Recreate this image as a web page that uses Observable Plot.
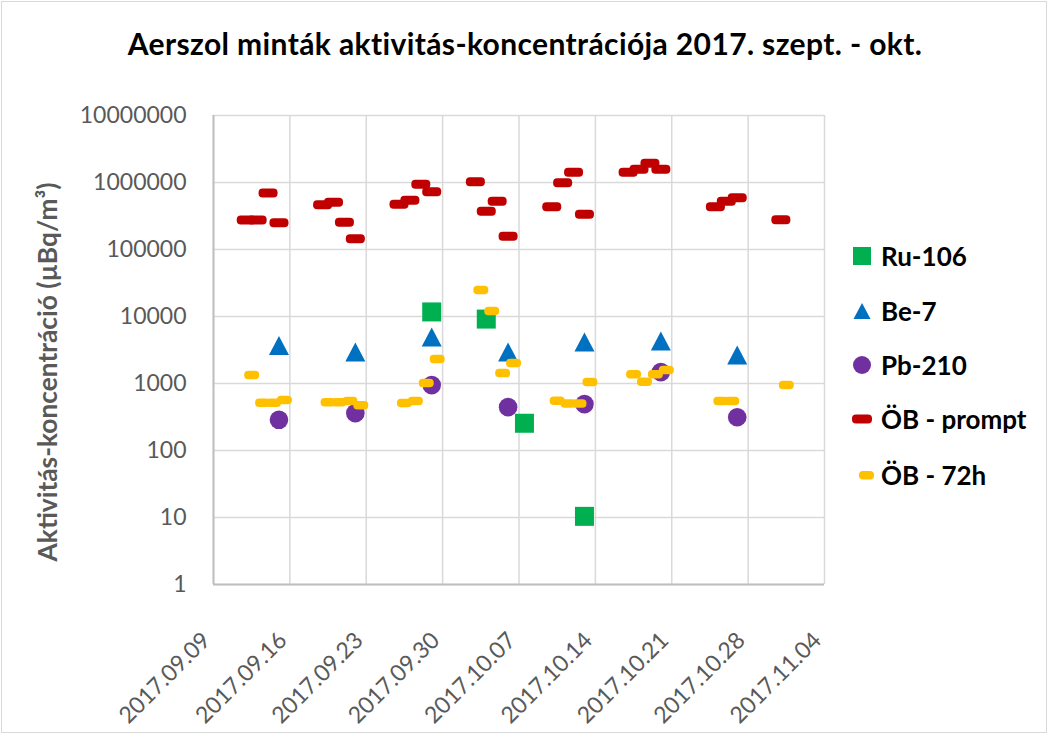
<!DOCTYPE html>
<html>
<head>
<meta charset="utf-8">
<script src="https://cdn.jsdelivr.net/npm/d3@7"></script>
<script src="https://cdn.jsdelivr.net/npm/@observablehq/plot@0.6"></script>
<style>
  body { margin: 0; background: #fff; font-family: Lato, "Open Sans", sans-serif; }
  #wrap { position: relative; width: 1050px; height: 735px; overflow: hidden; background: #fff; }
  #frame { position: absolute; left: 1px; top: 1px; width: 1044px; height: 730px; border: 1px solid #d9d9d9; pointer-events: none; }
  #title { position: absolute; left: 0; top: 28px; width: 1050px; text-align: center; font-weight: bold; font-size: 30px; line-height: 30px; color: #000; white-space: nowrap; }
  #title span { display: inline-block; }
  #chart { position: absolute; left: 0; top: 80px; }
  #legend { position: absolute; left: 850px; top: 0; }
  .row { position: absolute; left: 0; height: 30px; width: 200px; }
  .row svg { position: absolute; left: 0; top: 3px; }
  .row span { position: absolute; left: 31px; top: 0; line-height: 30px; font-size: 26px; font-weight: bold; color: #000; white-space: nowrap; }
</style>
</head>
<body>
<div id="wrap">
  <div id="title"><span></span></div>
  <div id="chart"></div>
  <div id="legend"></div>
  <div id="frame"></div>
</div>
<script>
// ---------- data ----------
const chartTitle = "Aerszol minták aktivitás-koncentrációja 2017. szept. - okt.";
const yTitle = "Aktivitás-koncentráció (µBq/m³)";
const xTickLabels = ["2017.09.09","2017.09.16","2017.09.23","2017.09.30","2017.10.07","2017.10.14","2017.10.21","2017.10.28","2017.11.04"];
const yTickValues = [1, 10, 100, 1000, 10000, 100000, 1000000, 10000000];
const yTickLabels = ["1","10","100","1000","10000","100000","1000000","10000000"];

const seriesNames = ["Ru-106", "Be-7", "Pb-210", "ÖB - prompt", "ÖB - 72h"];
const seriesColors = ["#00b050", "#0070c0", "#7030a0", "#c00000", "#ffc000"];

const ru106Dates = ["2017-09-29", "2017-10-04", "2017-10-07T12:00", "2017-10-13"];
const ru106Values = [11700, 9150, 255, 10.4];

const be7Dates = ["2017-09-15", "2017-09-22", "2017-09-29", "2017-10-06", "2017-10-13", "2017-10-20", "2017-10-27"];
const be7Values = [3700, 2950, 4950, 2950, 4150, 4300, 2660];

const pb210Dates = ["2017-09-15", "2017-09-22", "2017-09-29", "2017-10-06", "2017-10-13", "2017-10-20", "2017-10-27"];
const pb210Values = [287, 361, 946, 444, 493, 1480, 313];

const promptDates = [
  "2017-09-12", "2017-09-13", "2017-09-14", "2017-09-15",
  "2017-09-19", "2017-09-20", "2017-09-21", "2017-09-22",
  "2017-09-26", "2017-09-27", "2017-09-28", "2017-09-29",
  "2017-10-03", "2017-10-04", "2017-10-05", "2017-10-06",
  "2017-10-10", "2017-10-11", "2017-10-12", "2017-10-13",
  "2017-10-17", "2017-10-18", "2017-10-19", "2017-10-20",
  "2017-10-25", "2017-10-26", "2017-10-27",
  "2017-10-31"
];
const promptValues = [
  275000, 275000, 700000, 250000,
  467000, 507000, 255000, 145000,
  473000, 543000, 945000, 730000,
  1030000, 372000, 525000, 157000,
  435000, 995000, 1420000, 335000,
  1420000, 1580000, 1940000, 1580000,
  435000, 525000, 593000,
  278000
];

const h72Dates = [
  "2017-09-12T12:00", "2017-09-13T12:00", "2017-09-14T12:00", "2017-09-15T12:00",
  "2017-09-19T12:00", "2017-09-20T12:00", "2017-09-21T12:00", "2017-09-22T12:00",
  "2017-09-26T12:00", "2017-09-27T12:00", "2017-09-28T12:00", "2017-09-29T12:00",
  "2017-10-03T12:00", "2017-10-04T12:00", "2017-10-05T12:00", "2017-10-06T12:00",
  "2017-10-10T12:00", "2017-10-11T12:00", "2017-10-12T12:00", "2017-10-13T12:00",
  "2017-10-17T12:00", "2017-10-18T12:00", "2017-10-19T12:00", "2017-10-20T12:00",
  "2017-10-25T12:00", "2017-10-26T12:00",
  "2017-10-31T12:00"
];
const h72Values = [
  1340, 515, 515, 565,
  527, 527, 546, 475,
  510, 546, 1015, 2320,
  24900, 12100, 1430, 2020,
  552, 504, 504, 1050,
  1370, 1060, 1370, 1590,
  546, 546,
  946
];

// ---------- helpers ----------
const parse = s => new Date(s.length === 10 ? s + "T00:00Z" : s + "Z");
const xTicks = xTickLabels.map(s => parse(s.replace(/\./g, "-")));

function roundRect(w, h, r) {
  return { draw(c) {
    const x0 = -w / 2, x1 = w / 2, y0 = -h / 2, y1 = h / 2;
    c.moveTo(x0 + r, y0); c.lineTo(x1 - r, y0); c.arcTo(x1, y0, x1, y0 + r, r);
    c.lineTo(x1, y1 - r); c.arcTo(x1, y1, x1 - r, y1, r);
    c.lineTo(x0 + r, y1); c.arcTo(x0, y1, x0, y1 - r, r);
    c.lineTo(x0, y0 + r); c.arcTo(x0, y0, x0 + r, y0, r);
    c.closePath();
  }};
}
function tri(w, h) {
  return { draw(c) { c.moveTo(0, -h / 2); c.lineTo(w / 2, h / 2); c.lineTo(-w / 2, h / 2); c.closePath(); } };
}
const symSquare = roundRect(19, 19, 0);
const symTri = tri(20, 19);
const symPrompt = roundRect(19, 9, 4);
const sym72 = roundRect(15, 8.5, 4);

const series = (dates, values) => values.map((v, i) => ({ date: parse(dates[i]), value: v }));

const grid = "#d9d9d9";
const axisCol = "#bfbfbf";
const textCol = "#595959";

const chart = Plot.plot({
  width: 1050,
  height: 655,
  marginTop: 35,
  marginBottom: 151,
  marginLeft: 213,
  marginRight: 226,
  style: { fontFamily: "Lato, 'Open Sans', sans-serif", background: "transparent", overflow: "visible" },
  x: { type: "utc", domain: [xTicks[0], xTicks[xTicks.length - 1]], axis: null },
  y: { type: "log", domain: [1, 10000000], axis: null },
  marks: [
    Plot.gridX(xTicks, { stroke: grid, strokeOpacity: 1, strokeWidth: 1.5 }),
    Plot.gridY(yTickValues, { stroke: grid, strokeOpacity: 1, strokeWidth: 1.5 }),
    Plot.ruleY([1], { stroke: axisCol, strokeWidth: 2 }),
    Plot.ruleX([xTicks[0]], { stroke: axisCol, strokeWidth: 2 }),
    Plot.axisY(yTickValues, { anchor: "left", tickSize: 0, tickPadding: 27, tickFormat: d => yTickLabels[yTickValues.indexOf(d)], fontSize: 23, fill: textCol, label: null }),
    Plot.text(xTicks, { x: d => d, text: (d, i) => xTickLabels[i], frameAnchor: "bottom", dx: -7, dy: 52, rotate: -45, textAnchor: "end", lineAnchor: "middle", fontSize: 23, fill: textCol }),
    Plot.text([yTitle], { frameAnchor: "left", dx: -165, dy: 22, rotate: -90, textAnchor: "middle", fontSize: 26, fontWeight: "bold", fill: textCol }),
    Plot.dot(series(ru106Dates, ru106Values), { x: "date", y: "value", symbol: symSquare, r: 1, fill: seriesColors[0] }),
    Plot.dot(series(be7Dates, be7Values), { x: "date", y: "value", symbol: symTri, r: 1, fill: seriesColors[1] }),
    Plot.dot(series(pb210Dates, pb210Values), { x: "date", y: "value", symbol: "circle", r: 9.3, fill: seriesColors[2] }),
    Plot.dot(series(promptDates, promptValues), { x: "date", y: "value", symbol: symPrompt, r: 1, fill: seriesColors[3] }),
    Plot.dot(series(h72Dates, h72Values), { x: "date", y: "value", symbol: sym72, r: 1, fill: seriesColors[4] })
  ]
});
document.getElementById("chart").appendChild(chart);

// fit y-axis title length to the reference (about 379 px)
for (const t of chart.querySelectorAll("text")) {
  if (t.textContent === yTitle) {
    const len = t.getComputedTextLength();
    if (len > 0) t.style.fontSize = (26 * 379 / len).toFixed(2) + "px";
  }
}

// title, stretched to the reference width (about 795 px)
const titleSpan = document.querySelector("#title span");
titleSpan.textContent = chartTitle;
const tw = titleSpan.getBoundingClientRect().width;
if (tw > 0) titleSpan.style.letterSpacing = ((795 - tw) / chartTitle.length).toFixed(3) + "px";

// legend
const legendY = [256, 311, 365, 419, 475];
const legendSym = [
  `<rect x="3" y="3" width="18" height="18" fill="${seriesColors[0]}"/>`,
  `<path d="M12,4 L20.5,20 L3.5,20 Z" fill="${seriesColors[1]}"/>`,
  `<circle cx="12" cy="12" r="9" fill="${seriesColors[2]}"/>`,
  `<rect x="2" y="7.5" width="20" height="9" rx="4" fill="${seriesColors[3]}"/>`,
  `<rect x="9" y="8" width="15" height="8.5" rx="4" fill="${seriesColors[4]}"/>`
];
const leg = document.getElementById("legend");
seriesNames.forEach((name, i) => {
  const row = document.createElement("div");
  row.className = "row";
  row.style.top = (legendY[i] - 15) + "px";
  row.innerHTML = `<svg width="24" height="24" viewBox="0 0 24 24">${legendSym[i]}</svg><span></span>`;
  row.querySelector("span").textContent = name;
  leg.appendChild(row);
});
</script>
</body>
</html>
